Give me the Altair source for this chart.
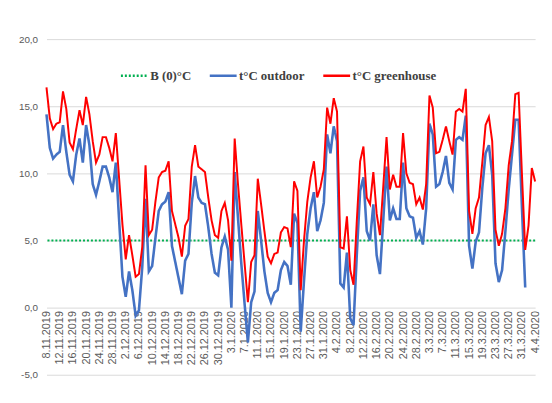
import altair as alt
import pandas as pd

# Category labels: daily dates 8.11.2019 .. 4.4.2020
dates = [f"{d.day}.{d.month}.{d.year}" for d in pd.date_range("2019-11-08", "2020-04-04")]

greenhouse = [16.4, 14.1, 13.3, 13.7, 13.8, 16.1, 14.8, 12.3, 11.8, 13.3,
              14.7, 13.6, 15.7, 14.4, 12.4, 10.8, 11.4, 12.7, 12.7, 11.9,
              10.9, 13.0, 9.6, 6.2, 3.6, 5.4, 3.9, 2.3, 2.5, 4.5,
              10.6, 5.4, 5.8, 7.9, 9.7, 10.1, 10.2, 10.9, 7.2, 6.2,
              5.2, 3.8, 6.1, 6.6, 10.5, 12.1, 10.5, 10.3, 10.1, 8.2,
              6.5, 5.4, 5.2, 7.2, 7.8, 6.5, 3.5, 12.6, 9.2, 6.2,
              3.3, 0.4, 3.4, 3.9, 9.6, 7.7, 5.7, 3.8, 3.3, 4.0,
              4.1, 5.6, 6.0, 5.9, 4.5, 9.4, 8.7, 1.3, 5.0, 7.9,
              9.7, 10.9, 8.2, 9.0, 10.3, 14.9, 13.7, 15.6, 14.6, 4.5,
              4.4, 6.8, 2.8, 1.7, 6.5, 10.9, 12.0, 8.2, 7.7, 10.1,
              7.0, 5.4, 9.0, 12.7, 8.8, 9.9, 9.0, 9.0, 13.0, 10.0,
              9.3, 9.2, 7.7, 8.2, 7.3, 9.2, 15.8, 14.9, 11.5, 11.6,
              12.5, 13.5, 12.4, 11.4, 14.6, 14.8, 14.6, 16.3, 7.2, 5.5,
              7.4, 8.2, 10.8, 13.6, 14.2, 12.4, 5.8, 4.6, 5.5, 7.4,
              10.6, 12.4, 15.9, 16.0, 10.0, 4.3, 6.1, 10.4, 9.4]

outdoor = [14.4, 11.9, 11.1, 11.4, 11.6, 13.6, 11.6, 9.9, 9.4, 11.4,
           12.6, 10.8, 13.6, 12.1, 9.2, 8.4, 9.4, 10.5, 10.5, 9.7,
           8.6, 10.8, 6.5, 2.3, 0.8, 2.7, 1.3, -0.6, -0.2, 3.0,
           8.1, 2.7, 3.1, 5.2, 7.2, 7.7, 7.9, 8.6, 4.6, 3.4,
           2.2, 1.0, 3.5, 4.0, 7.8, 9.8, 8.2, 7.8, 7.7, 6.0,
           4.0, 2.6, 2.4, 4.5, 5.3, 4.3, 0.0, 10.1, 6.7, 3.3,
           0.3, -2.6, 0.4, 1.2, 7.2, 5.0, 2.7, 1.1, 0.4, 1.1,
           1.3, 2.8, 3.4, 3.1, 1.7, 7.0, 6.3, -1.8, 2.0, 5.5,
           7.4, 8.6, 5.7, 6.5, 7.8, 12.9, 11.5, 13.5, 12.4, 1.8,
           1.5, 4.1, -0.8, -1.3, 4.0, 8.7, 9.7, 5.7, 5.0, 7.7,
           3.9, 2.5, 6.5, 10.5, 6.5, 7.4, 6.6, 6.6, 10.8, 7.4,
           6.8, 6.7, 5.2, 5.7, 4.7, 7.4, 13.7, 12.9, 9.0, 9.2,
           10.1, 11.3, 9.3, 8.8, 12.5, 12.7, 12.5, 14.3, 4.6, 2.9,
           4.9, 5.6, 8.9, 11.5, 12.1, 9.9, 3.3, 1.9, 2.8, 5.7,
           8.8, 11.4, 14.0, 14.0, 7.5, 1.5]

base_value = [5.0]

series_names = ["B (0)°C", "t°C outdoor", "t°C greenhouse"]
series_colors = ["#00B050", "#4472C4", "#FF0000"]
series_dash = [[2, 2], [1, 0], [1, 0]]
tick_labels = dates[::4]
y_ticks = [-5, 0, 5, 10, 15, 20]

df_out = pd.DataFrame({"date": dates[:len(outdoor)], "value": outdoor, "series": series_names[1]})
df_gh = pd.DataFrame({"date": dates, "value": greenhouse, "series": series_names[2]})
df_b = pd.DataFrame({"value": base_value, "series": [series_names[0]]})

W, H = 495, 340

color = alt.Color("series:N",
                  scale=alt.Scale(domain=series_names, range=series_colors),
                  legend=alt.Legend(title=None, orient="none", legendX=74, legendY=22,
                                    direction="horizontal", symbolType="stroke",
                                    symbolSize=740, symbolStrokeWidth=2.5,
                                    labelFont="Liberation Serif", labelFontWeight="bold",
                                    labelFontSize=13, labelColor="#404040",
                                    columnPadding=13, labelOffset=1, padding=0))
dash = alt.StrokeDash("series:N",
                      scale=alt.Scale(domain=series_names, range=series_dash),
                      legend=None)

x = alt.X("date:O", sort=dates,
          scale=alt.Scale(type="point", padding=0),
          axis=alt.Axis(values=tick_labels, labelAngle=-90, offset=-H * 5 / 25,
                        labelPadding=3, ticks=False, domain=False, grid=False,
                        title=None, labelFont="Liberation Sans", labelFontSize=11,
                        labelColor="#595959"))
y = alt.Y("value:Q",
          scale=alt.Scale(domain=[-5, 20], nice=False, zero=False),
          axis=alt.Axis(values=y_ticks, title=None, domain=False, ticks=False,
                        gridColor="#d9d9d9", labelColor="#595959",
                        labelFont="Liberation Sans", labelFontSize=10, labelPadding=9,
                        labelExpr="(datum.value < 0 ? '-' : '') + replace(format(abs(datum.value), '.1f'), '.', ',')"))

rule = alt.Chart(df_b).mark_rule(strokeWidth=2).encode(y=y, color=color, strokeDash=dash)
blue = alt.Chart(df_out).mark_line(strokeWidth=2.6).encode(x=x, y=y, color=color, strokeDash=dash)
red = alt.Chart(df_gh).mark_line(strokeWidth=2).encode(x=x, y=y, color=color, strokeDash=dash)

chart = alt.layer(rule, blue, red).properties(
    width=W, height=H,
    autosize=alt.AutoSizeParams(type="none"),
    padding={"left": 39, "top": 29, "right": 9, "bottom": 18},
).configure_view(stroke=None)

chart.save("out.html", embed_options={"renderer": "svg", "actions": False})
